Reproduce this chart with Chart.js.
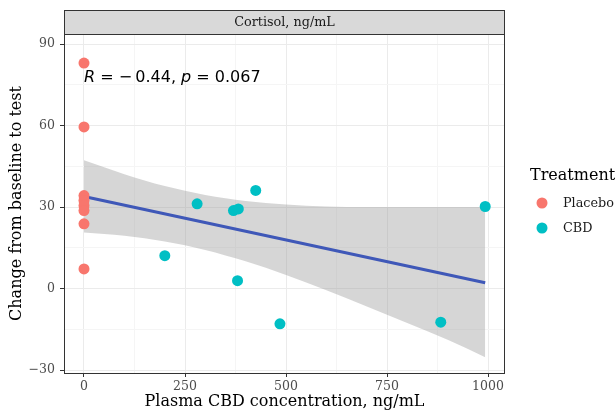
<!DOCTYPE html>
<html>
<head>
<meta charset="utf-8">
<script src="https://cdn.jsdelivr.net/npm/chart.js@4.4.1/dist/chart.umd.min.js"></script>
<style>
  body { margin: 0; background: #ffffff; }
  canvas { display: block; }
</style>
</head>
<body>
<canvas id="chart" width="616" height="414"></canvas>
<script>
// Values
const placeboX = [0, 0, 0, 0, 0, 0, 0, 0];
const placeboY = [83, 59.5, 34.2, 32.4, 30.5, 28.7, 23.8, 7.2];
const cbdX = [200, 280, 370, 382, 425, 380, 485, 883, 993];
const cbdY = [12.1, 31.2, 28.7, 29.3, 36.1, 2.9, -13, -12.4, 30.2];

const fitX = [0, 993];
const fitY = [33.9, 2.1];

const bandX = [0, 100, 200, 300, 400, 500, 600, 700, 800, 900, 993];
const bandUpper = [47.2, 42.1, 37.7, 34.4, 32.2, 30.9, 30.2, 30.0, 30.0, 30.0, 30.0];
const bandLower = [20.6, 19.4, 17.3, 14.2, 10.0, 5.0, -0.6, -6.6, -12.7, -18.9, -25.3];

const xTicks = [0, 125, 250, 375, 500, 625, 750, 875, 1000];
const yTicks = [-30, -15, 0, 15, 30, 45, 60, 75, 90];
const xMajor = [0, 250, 500, 750, 1000];
const yMajor = [-30, 0, 30, 60, 90];

const stripLabel = 'Cortisol, ng/mL';
const corLabel = { x: 0, y: 77.7 };
const legendTitle = 'Treatment';
const groups = ['Placebo', 'CBD'];
const groupColors = ['#F8766D', '#00BFC4'];

const SERIF = '"DejaVu Serif", serif';
const SANS = '"DejaVu Sans", sans-serif';

function toPoints(xs, ys) {
    return xs.map(function(x, i) { return { x: x, y: ys[i] }; });
}

function gridColor(majors) {
    return function(ctx) {
        if (!ctx.tick) return 'rgba(0,0,0,0)';
        return majors.includes(ctx.tick.value) ? '#ebebeb' : '#f5f5f5';
    };
}

function tickMarkColor(majors) {
    return function(ctx) {
        if (!ctx.tick) return 'rgba(0,0,0,0)';
        return majors.includes(ctx.tick.value) ? '#333333' : 'rgba(0,0,0,0)';
    };
}

const decorPlugin = {
    id: 'decor',
    afterDraw(chart) {
        const ctx = chart.ctx;
        const area = chart.chartArea;
        const xs = chart.scales.x;
        const ys = chart.scales.y;
        ctx.save();

        // panel border
        ctx.strokeStyle = '#333333';
        ctx.lineWidth = 1;
        ctx.strokeRect(area.left + 0.5, area.top + 0.5, area.right - area.left - 1, area.bottom - area.top);

        // facet strip
        ctx.fillStyle = '#d9d9d9';
        ctx.fillRect(area.left + 0.5, 10.5, area.right - area.left - 1, area.top - 10);
        ctx.strokeRect(area.left + 0.5, 10.5, area.right - area.left - 1, area.top - 10);
        ctx.fillStyle = '#1a1a1a';
        ctx.font = '12.8px ' + SERIF;
        ctx.textAlign = 'center';
        ctx.textBaseline = 'middle';
        ctx.fillText(stripLabel, (area.left + area.right) / 2, (10 + area.top) / 2 + 1);

        // correlation label
        const parts = [
            ['R', true], [' = \u2212\u20090.44, ', false], ['p', true], [' = 0.067', false]
        ];
        let tx = xs.getPixelForValue(corLabel.x);
        const ty = ys.getPixelForValue(corLabel.y);
        ctx.textAlign = 'left';
        ctx.fillStyle = '#000000';
        parts.forEach(function(p) {
            ctx.font = (p[1] ? 'italic ' : '') + '16px ' + SANS;
            ctx.fillText(p[0], tx, ty);
            tx += ctx.measureText(p[0]).width;
        });

        // legend
        ctx.font = '16px ' + SERIF;
        ctx.fillStyle = '#000000';
        ctx.fillText(legendTitle, 530, 176);
        ctx.font = '12.8px ' + SERIF;
        groups.forEach(function(g, i) {
            const cy = 203 + i * 25;
            ctx.beginPath();
            ctx.arc(542, cy, 5.5, 0, Math.PI * 2);
            ctx.fillStyle = groupColors[i];
            ctx.fill();
            ctx.fillStyle = '#1a1a1a';
            ctx.fillText(g, 563, cy + 1);
        });
        ctx.restore();
    }
};

new Chart(document.getElementById('chart'), {
    type: 'scatter',
    data: {
        datasets: [
            {
                label: 'lower',
                data: toPoints(bandX, bandLower),
                showLine: true,
                borderWidth: 0,
                pointRadius: 0,
                tension: 0.4,
                cubicInterpolationMode: 'monotone',
                fill: false,
                order: 4
            },
            {
                label: 'band',
                data: toPoints(bandX, bandUpper),
                showLine: true,
                borderWidth: 0,
                pointRadius: 0,
                tension: 0.4,
                cubicInterpolationMode: 'monotone',
                backgroundColor: 'rgba(153, 153, 153, 0.4)',
                fill: '-1',
                order: 3
            },
            {
                label: 'fit',
                data: toPoints(fitX, fitY),
                showLine: true,
                borderColor: '#3f58b8',
                borderWidth: 3,
                pointRadius: 0,
                order: 2
            },
            {
                label: groups[0],
                data: toPoints(placeboX, placeboY),
                backgroundColor: groupColors[0],
                borderWidth: 0,
                pointRadius: 5.5,
                order: 1
            },
            {
                label: groups[1],
                data: toPoints(cbdX, cbdY),
                backgroundColor: groupColors[1],
                borderWidth: 0,
                pointRadius: 5.5,
                order: 1
            }
        ]
    },
    options: {
        responsive: false,
        animation: false,
        layout: {
            padding: { top: 34, right: 111, bottom: 0, left: 0 }
        },
        plugins: {
            legend: { display: false },
            tooltip: { enabled: false }
        },
        scales: {
            x: {
                type: 'linear',
                min: -49.5,
                max: 1042,
                afterBuildTicks: function(scale) {
                    scale.ticks = xTicks.map(function(v) { return { value: v }; });
                },
                afterFit: function(scale) { scale.height = 41; },
                ticks: {
                    color: '#4d4d4d',
                    font: { family: SERIF, size: 12.5 },
                    padding: 2,
                    maxRotation: 0,
                    callback: function(v) { return xMajor.includes(v) ? String(v) : ''; }
                },
                grid: {
                    color: gridColor(xMajor),
                    tickColor: tickMarkColor(xMajor),
                    tickLength: 4
                },
                border: { display: false },
                title: {
                    display: true,
                    text: 'Plasma CBD concentration, ng/mL',
                    color: '#000000',
                    font: { family: SERIF, size: 16 },
                    padding: { top: 0, bottom: 2.4 }
                }
            },
            y: {
                type: 'linear',
                min: -31.1,
                max: 93.7,
                afterBuildTicks: function(scale) {
                    scale.ticks = yTicks.map(function(v) { return { value: v }; });
                },
                afterFit: function(scale) { scale.width = 64; },
                ticks: {
                    color: '#4d4d4d',
                    font: { family: SERIF, size: 12.5 },
                    padding: 5,
                    callback: function(v) {
                        if (!yMajor.includes(v)) return '';
                        return v < 0 ? '\u2212' + Math.abs(v) : String(v);
                    }
                },
                grid: {
                    color: gridColor(yMajor),
                    tickColor: tickMarkColor(yMajor),
                    tickLength: 4
                },
                border: { display: false },
                title: {
                    display: true,
                    text: 'Change from baseline to test',
                    color: '#000000',
                    font: { family: SERIF, size: 16 },
                    padding: { top: 7.4, bottom: 0 }
                }
            }
        }
    },
    plugins: [decorPlugin]
});
</script>
</body>
</html>
